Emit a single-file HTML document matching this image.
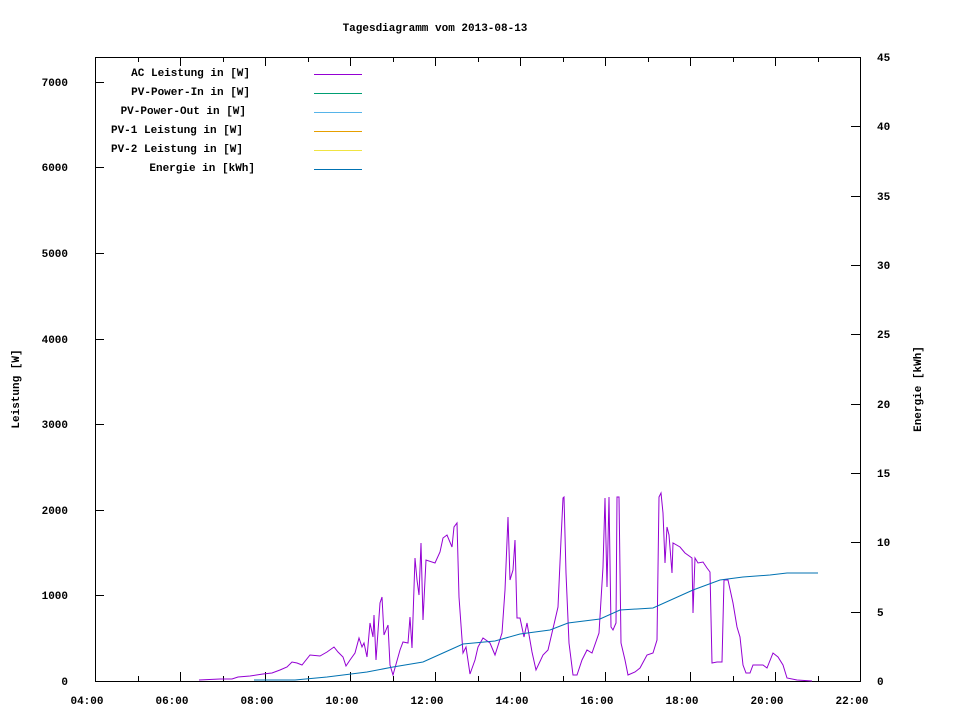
<!DOCTYPE html>
<html><head><meta charset="utf-8"><style>
body{margin:0;background:#fff;}
text{font-family:"Liberation Mono","DejaVu Sans Mono",monospace;font-size:11px;font-weight:bold;fill:#000;}
</style></head><body>
<svg width="960" height="720" xmlns="http://www.w3.org/2000/svg">
<text x="435" y="31" text-anchor="middle">Tagesdiagramm vom 2013-08-13</text>
<rect x="95.5" y="57.5" width="765" height="624" fill="none" stroke="#000" stroke-width="1"/>
<g stroke="#000" stroke-width="1">
<!-- x ticks -->
<path d="M95.5 681v-9M180.5 681v-9M265.5 681v-9M350.5 681v-9M435.5 681v-9M520.5 681v-9M605.5 681v-9M690.5 681v-9M775.5 681v-9M860.5 681v-9
M138.5 681v-5M223.5 681v-5M308.5 681v-5M393.5 681v-5M478.5 681v-5M563.5 681v-5M648.5 681v-5M733.5 681v-5M818.5 681v-5
M95.5 57v9M180.5 57v9M265.5 57v9M350.5 57v9M435.5 57v9M520.5 57v9M605.5 57v9M690.5 57v9M775.5 57v9M860.5 57v9
M138.5 57v5M223.5 57v5M308.5 57v5M393.5 57v5M478.5 57v5M563.5 57v5M648.5 57v5M733.5 57v5M818.5 57v5"/>
<!-- left y ticks -->
<path d="M95 595.5h9M95 510.5h9M95 424.5h9M95 339.5h9M95 253.5h9M95 167.5h9M95 82.5h9"/>
<!-- right y ticks -->
<path d="M860 612.5h-9M860 542.5h-9M860 473.5h-9M860 404.5h-9M860 334.5h-9M860 265.5h-9M860 196.5h-9M860 126.5h-9M860 57.5h-9"/>
</g>
<g text-anchor="end">
<text x="68" y="685">0</text><text x="68" y="599">1000</text><text x="68" y="514">2000</text><text x="68" y="428">3000</text><text x="68" y="343">4000</text><text x="68" y="257">5000</text><text x="68" y="171">6000</text><text x="68" y="86">7000</text>
</g>
<g text-anchor="start">
<text x="877" y="685">0</text><text x="877" y="616">5</text><text x="877" y="546">10</text><text x="877" y="477">15</text><text x="877" y="408">20</text><text x="877" y="338">25</text><text x="877" y="269">30</text><text x="877" y="200">35</text><text x="877" y="130">40</text><text x="877" y="61">45</text>
</g>
<g text-anchor="middle">
<text x="87" y="704">04:00</text><text x="172" y="704">06:00</text><text x="257" y="704">08:00</text><text x="342" y="704">10:00</text><text x="427" y="704">12:00</text><text x="512" y="704">14:00</text><text x="597" y="704">16:00</text><text x="682" y="704">18:00</text><text x="767" y="704">20:00</text><text x="852" y="704">22:00</text>
</g>
<text transform="translate(19,389) rotate(-90)" text-anchor="middle">Leistung [W]</text>
<text transform="translate(921,389) rotate(-90)" text-anchor="middle">Energie [kWh]</text>
<g text-anchor="end">
<text x="250" y="76">AC Leistung in [W]</text>
<text x="250" y="95">PV-Power-In in [W]</text>
<text x="246" y="114">PV-Power-Out in [W]</text>
<text x="243" y="133">PV-1 Leistung in [W]</text>
<text x="243" y="152">PV-2 Leistung in [W]</text>
<text x="255" y="171">Energie in [kWh]</text>
</g>
<g stroke-width="1">
<path d="M314 74.5h48" stroke="#9400d3"/>
<path d="M314 93.5h48" stroke="#009e73"/>
<path d="M314 112.5h48" stroke="#56b4e9"/>
<path d="M314 131.5h48" stroke="#e69f00"/>
<path d="M314 150.5h48" stroke="#f0e442"/>
<path d="M314 169.5h48" stroke="#0072b2"/>
</g>
<polyline fill="none" stroke="#9400d3" stroke-width="1" points="199,680 220,679 232,679 238,677 250,676 263,674 272,673 280,670 287,667 292,662 297,663 302,665 310,655 320,656 327,652 334,647 338,652 343,657 346,666 350,660 355,653 359,638 362,647 364,643 367,657 370,623 373,637 374,615 376,660 380,603 382,597 384,635 388,625 390,665 393,675 400,650 403,642 408,643 410,617 412,648 415,558 417,580 419,595 421,543 423,620 426,560 435,563 440,552 443,538 447,535 452,547 454,527 457,523 459,597 463,653 466,647 470,674 475,660 478,647 483,638 490,643 495,655 502,633 505,590 508,517 510,580 513,570 515,540 517,618 520,618 524,637 527,623 532,652 536,670 543,655 548,650 555,620 558,607 561,540 563,498 564,497 566,573 569,643 573,675 577,675 582,660 587,650 592,653 599,633 603,567 605,498 607,587 609,497 611,627 613,630 616,623 617,497 619,497 621,643 625,660 628,675 635,672 640,668 647,655 653,653 657,640 659,497 661,493 663,513 665,563 667,527 669,535 672,573 673,543 680,547 685,553 692,558 693,613 695,558 698,563 703,562 707,568 710,572 712,663 717,662 722,662 724,580 728,580 733,603 737,627 740,637 743,665 746,673 750,673 753,665 763,665 767,668 773,653 778,657 783,665 787,678 797,680 812,681"/>
<polyline fill="none" stroke="#0072b2" stroke-width="1" points="254,680 295,680 327,677 367,672 393,667 423,662 443,653 463,644 495,641 520,634 550,630 568,623 600,619 620,610 653,608 693,590 720,580 743,577 770,575 787,573 818,573"/>
</svg>
</body></html>
